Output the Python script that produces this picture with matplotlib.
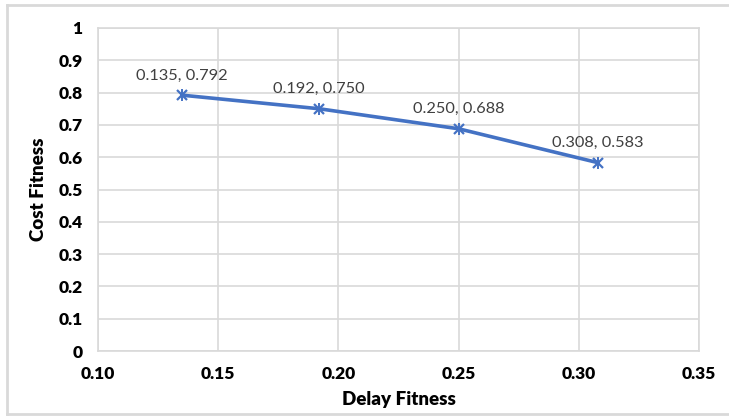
import matplotlib
matplotlib.use("Agg")
import matplotlib.pyplot as plt
from matplotlib.lines import Line2D

delay = [0.135, 0.192, 0.250, 0.308]
cost = [0.792, 0.750, 0.688, 0.583]
x_ticks = [0.10, 0.15, 0.20, 0.25, 0.30, 0.35]
y_ticks = [0, 0.1, 0.2, 0.3, 0.4, 0.5, 0.6, 0.7, 0.8, 0.9, 1]

W, H = 729, 416
fig = plt.figure(figsize=(W / 100, H / 100), dpi=100)
ax = fig.add_axes([98 / W, 1 - 351 / H, (699 - 98) / W, (351 - 28) / H])

grid_c = "#d9d9d9"
blue = "#4472C4"

ax.plot(delay, cost, color=blue, lw=2.6, solid_capstyle="round", zorder=3)
ax.plot(delay, cost, ls="none", marker="x", ms=7, mew=1.6, color=blue, zorder=4)
ax.plot(delay, cost, ls="none", marker="|", ms=8, mew=1.4, color=blue, zorder=4)

for x, y in zip(delay, cost):
    ax.annotate(f"{x:.3f}, {y:.3f}", (x, y), xytext=(0, 9), textcoords="offset points",
                ha="center", va="bottom", fontsize=11.8, color="#404040", family="Lato")

ax.set_xlim(0.10, 0.35)
ax.set_ylim(0, 1)
ax.set_xticks(x_ticks)
ax.set_xticklabels([f"{t:.2f}" for t in x_ticks])
ax.set_yticks(y_ticks)
ax.set_yticklabels(["0", "0.1", "0.2", "0.3", "0.4", "0.5", "0.6", "0.7", "0.8", "0.9", "1"])
ax.grid(True, color=grid_c, lw=1.2, zorder=0)
ax.set_axisbelow(True)
for s in ax.spines.values():
    s.set_color(grid_c)
    s.set_linewidth(1.2)
ax.tick_params(length=0, labelsize=12.5)
ax.tick_params(axis="x", pad=11)
ax.tick_params(axis="y", pad=11)
for lab in ax.get_xticklabels() + ax.get_yticklabels():
    lab.set_fontweight("heavy")
    lab.set_family("Lato")
    lab.set_color("#000000")

ax.set_xlabel("Delay Fitness", fontsize=13.5, fontweight="heavy", family="Lato", labelpad=6)
ax.set_ylabel("Cost Fitness", fontsize=13.5, fontweight="heavy", family="Lato", labelpad=8)

# chart frame
frame_kw = dict(color="#d9d9d9", lw=2, transform=fig.transFigure)
fig.add_artist(Line2D([7 / W, 1], [1 - 5 / H, 1 - 5 / H], **frame_kw))
fig.add_artist(Line2D([7 / W, 7 / W], [1 - 5 / H, 1 - 414 / H], **frame_kw))
fig.add_artist(Line2D([7 / W, 1], [1 - 414 / H, 1 - 414 / H], **frame_kw))

fig.savefig("out.png", dpi=100)
